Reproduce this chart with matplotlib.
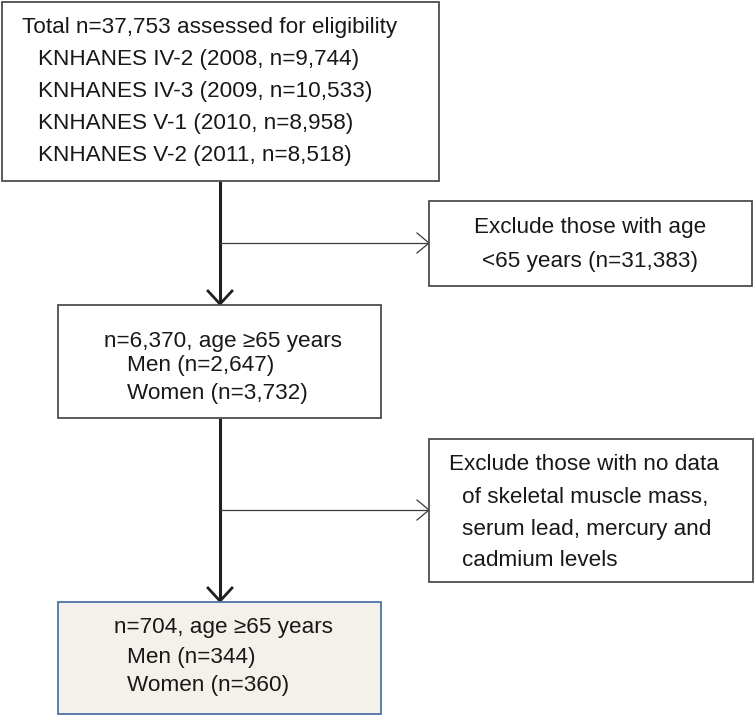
import matplotlib
matplotlib.use("Agg")
import matplotlib.pyplot as plt
from matplotlib.patches import Rectangle
from matplotlib import font_manager

# ---- data (counts shown in the flowchart) ----
total_n = "37,753"
surveys = ["KNHANES IV-2", "KNHANES IV-3", "KNHANES V-1", "KNHANES V-2"]
survey_years = ["2008", "2009", "2010", "2011"]
survey_n = ["9,744", "10,533", "8,958", "8,518"]
excluded_age_n = "31,383"
aged_n = ["6,370", "2,647", "3,732"]          # total, men, women
final_n = ["704", "344", "360"]               # total, men, women

W, H = 754, 716
fig = plt.figure(figsize=(W / 100, H / 100), dpi=100)
ax = fig.add_axes([0, 0, 1, 1])
ax.set_xlim(0, W)
ax.set_ylim(H, 0)
ax.axis("off")

avail = {f.name for f in font_manager.fontManager.ttflist}
fams = [f for f in ["Liberation Sans Narrow", "DejaVu Sans Condensed", "Liberation Sans", "DejaVu Sans"] if f in avail]
FS = 16.2
TC = "#1a1718"
BC = "#4d4d4d"
DY = 2

def box(x0, y0, x1, y1, fc="white", ec=BC, lw=1.3):
    ax.add_patch(Rectangle((x0, y0), x1 - x0, y1 - y0, fc=fc, ec=ec, lw=lw, zorder=2))

def txt(x, y, s, ha="left"):
    ax.text(x, y + DY, s, ha=ha, va="center", fontsize=FS, color=TC, family=fams, zorder=3)

def big_arrow(x, y0, y1):
    ax.plot([x, x], [y0, y1], color="#231f20", lw=2.2, solid_capstyle="butt", zorder=1)
    ax.plot([x - 12, x, x + 12], [y1 - 13, y1, y1 - 13], color="#231f20", lw=2.0,
            solid_joinstyle="miter", zorder=1)

def side_arrow(x0, x1, y):
    ax.plot([x0, x1], [y, y], color="#3a3a3a", lw=0.9, zorder=1)
    ax.plot([x1 - 12, x1, x1 - 12], [y - 10, y, y + 10], color="#3a3a3a", lw=0.9, zorder=1)

cx = 220

# Box 1
box(2, 2, 439, 181)
txt(22, 26, f"Total n={total_n} assessed for eligibility")
for i, (s, yr, n) in enumerate(zip(surveys, survey_years, survey_n)):
    txt(38, 58 + 32 * i, f"{s} ({yr}, n={n})")

# arrow 1 + side exclusion
big_arrow(cx, 181, 304)
side_arrow(cx, 429, 243)
box(429, 201, 752, 286)
txt(590, 225, "Exclude those with age", ha="center")
txt(590, 259, f"<65 years (n={excluded_age_n})", ha="center")

# Box 3
box(58, 305, 381, 418)
txt(223, 339, f"n={aged_n[0]}, age \u226565 years", ha="center")
txt(127, 364, f"Men (n={aged_n[1]})")
txt(127, 391, f"Women (n={aged_n[2]})")

# arrow 2 + side exclusion
big_arrow(cx, 418, 601)
side_arrow(cx, 429, 510)
box(429, 439, 753, 582)
txt(449, 463, "Exclude those with no data")
txt(462, 495, "of skeletal muscle mass,")
txt(462, 527, "serum lead, mercury and")
txt(462, 558, "cadmium levels")

# Final box
box(58, 602, 381, 714, fc="#f4f0ea", ec="#4e72a8", lw=1.3)
txt(224, 625, f"n={final_n[0]}, age \u226565 years", ha="center")
txt(127, 655, f"Men (n={final_n[1]})")
txt(127, 684, f"Women (n={final_n[2]})")

fig.savefig("out.png", dpi=100, facecolor="white")
